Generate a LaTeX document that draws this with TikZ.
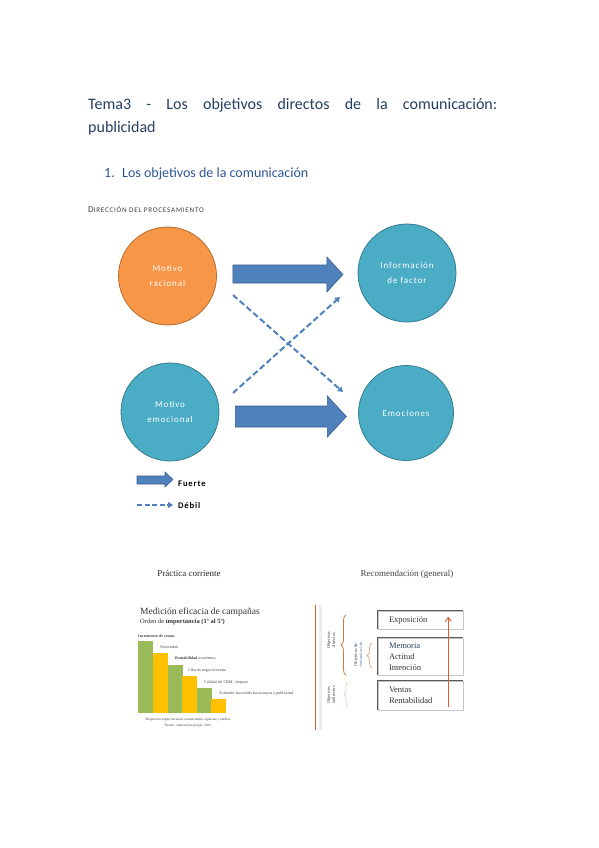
\documentclass[tikz,border=0pt]{standalone}
\usepackage{fontspec}
\setmainfont{Carlito}
\newfontfamily\serifimg{Liberation Serif}
\newfontfamily\spaced[LetterSpace=10]{Carlito}
\usetikzlibrary{calc,arrows.meta,decorations.pathreplacing}

\definecolor{titleblue}{RGB}{36,63,96}
\definecolor{headblue}{RGB}{47,84,150}
\definecolor{naranja}{RGB}{247,150,70}
\definecolor{naranjaborde}{RGB}{182,109,49}
\definecolor{turquesa}{RGB}{75,172,198}
\definecolor{turquesaborde}{RGB}{53,125,145}
\definecolor{flecha}{RGB}{79,129,189}
\definecolor{flechaborde}{RGB}{56,93,138}
\definecolor{verde}{RGB}{155,187,89}
\definecolor{amarillo}{RGB}{255,192,0}
\definecolor{rojizo}{RGB}{222,93,50}
\definecolor{marron}{RGB}{200,125,70}
\definecolor{tostado}{RGB}{225,175,135}

\begin{document}
\begin{tikzpicture}[x=1pt, y=-1pt,
    circulo/.style={circle, draw, line width=0.8pt, minimum size=98pt, text=white, align=center, font=\spaced\fontsize{9}{15}\selectfont},
    fuerte/.style={fill=flecha, draw=flechaborde, line width=0.6pt},
    debil/.style={draw=flecha, line width=2pt, dash pattern=on 6pt off 3pt, -{Triangle[length=5pt,width=6pt]}},
    caja/.style={draw=gray!45, line width=0.6pt, minimum width=85pt, text width=63pt, align=left, inner xsep=11pt, font=\serifimg\fontsize{8.5}{11}\selectfont, text=black!80},
    etiqueta/.style={anchor=base west, inner sep=0, font=\serifimg\fontsize{4}{4}\selectfont, text=black!75},
    lateral/.style={rotate=90, align=center, inner sep=0, font=\serifimg\fontsize{4.5}{5}\selectfont, text=black!75}]
    \useasboundingbox (0,0) rectangle (599,848);

    % Title and headings
    \node[anchor=base west, inner sep=0, text=titleblue, font=\fontsize{16}{20}\selectfont] (titulo1) at (88,110)
        {\makebox[409pt][s]{Tema3 - Los objetivos directos de la comunicación:}};
    \node[anchor=base west, inner sep=0, text=titleblue, font=\fontsize{16}{20}\selectfont] (titulo2) at (88,132) {publicidad};
    \node[anchor=base west, inner sep=0, text=headblue, font=\fontsize{14}{16}\selectfont] (seccion) at (104,177)
        {\makebox[18pt][l]{1.}Los objetivos de la comunicación};
    \node[anchor=base west, inner sep=0, text=black!75, font=\spaced] (direccion) at (88,212)
        {{\fontsize{9}{9}\selectfont D}{\fontsize{7.2}{9}\selectfont IRECCIÓN DEL PROCESAMIENTO}};

    % Circles
    \node[circulo, fill=naranja, draw=naranjaborde] (racional) at (167.5,276) {Motivo\\racional};
    \node[circulo, fill=turquesa, draw=turquesaborde] (factor) at (407,273) {Información\\de factor};
    \node[circulo, fill=turquesa, draw=turquesaborde] (emocional) at (170,412) {Motivo\\emocional};
    \node[circulo, fill=turquesa, draw=turquesaborde, minimum size=95pt] (emociones) at (406,413) {Emociones};

    % Strong arrows
    \draw[fuerte] ($(racional.east)+(16,-11)$) -- ++(94,0) -- ++(0,-8) -- ++(16,17.5) -- ++(-16,17.5) -- ++(0,-9) -- ++(-94,0) -- cycle;
    \draw[fuerte] ($(emocional.east)+(16,-6)$) -- ++(92,0) -- ++(0,-10) -- ++(19,20.5) -- ++(-19,20.5) -- ++(0,-10) -- ++(-92,0) -- cycle;

    % Weak arrows
    \coordinate (d1a) at ($(racional.center)+(65.5,19)$);
    \coordinate (d1b) at ($(emociones.center)+(-63,-21)$);
    \coordinate (d2a) at ($(emocional.center)+(63,-19)$);
    \coordinate (d2b) at ($(factor.center)+(-67,24)$);
    \draw[debil] (d1a) -- (d1b);
    \draw[debil] (d2a) -- (d2b);

    % Legend
    \node[anchor=base west, inner sep=0, font=\spaced\bfseries\fontsize{8.6}{9}\selectfont] (leyfuerte) at (178,486) {Fuerte};
    \node[anchor=base west, inner sep=0, font=\spaced\bfseries\fontsize{8.6}{9}\selectfont] (leydebil) at (178,508) {Débil};
    \draw[fuerte] ($(leyfuerte.base west)+(-41,-10)$) -- ++(28,0) -- ++(0,-4) -- ++(8,7.5) -- ++(-8,7.5) -- ++(0,-3) -- ++(-28,0) -- cycle;
    \coordinate (leyd) at ($(leydebil.base west)+(-41,-3)$);
    \draw[debil, line width=1.6pt, dash pattern=on 5pt off 2.5pt] (leyd) -- ++(36,0);

    % Current practice
    \node[anchor=base, inner sep=0, font=\serifimg\fontsize{9}{10}\selectfont, text=black!85] (practica) at (189,576) {Práctica corriente};
    \node[anchor=base, inner sep=0, font=\serifimg\fontsize{9}{10}\selectfont, text=black!75] (recomendacion) at (407,576) {Recomendación (general)};
    \node[anchor=base west, inner sep=0, font=\serifimg\fontsize{9.5}{10}\selectfont, text=black!80] (medicion) at (140,614) {Medición eficacia de campañas};
    \node[anchor=base west, inner sep=0, font=\serifimg\fontsize{6.5}{7}\selectfont, text=black!80] (orden) at (140,623) {Orden de \textbf{importancia (1º al 5º)}};

    % Bars
    \foreach \x/\h/\c in {138/641/verde, 153/653/amarillo, 168/665/verde, 182/676/amarillo, 197/688/verde, 211/699/amarillo}
        \fill[\c] (\x,\h) rectangle (\x+14.5,713);
    \node[etiqueta] (et1) at (138,637) {\textbf{Incremento de ventas}};
    \node[etiqueta] (et2) at (160,648) {Notoriedad};
    \node[etiqueta] (et3) at (175,659) {\textbf{Rentabilidad} económica};
    \node[etiqueta] (et4) at (188,671) {Cifra de negocio/ventas};
    \node[etiqueta] (et5) at (204,683) {Calidad del CRM / impacto};
    \node[etiqueta] (et6) at (219,694) {Actitudes favorables hacia marca y publicidad};
    \node[anchor=base, inner sep=0, font=\serifimg\fontsize{3.5}{4}\selectfont, text=black!75] (fuente1) at (188,720) {Respuestas según encuesta a anunciantes, agencias y medios};
    \node[anchor=base, inner sep=0, font=\serifimg\fontsize{3.5}{4}\selectfont, text=black!75] (fuente2) at (188,726) {Fuente: elaboración propia, 2013};

    % Separator
    \draw[gray!15, line width=3pt] (320,605) -- (320,730);
    \draw[rojizo, line width=1pt] (315,605) -- (315,730);

    % Recommendation boxes
    \node[caja, minimum height=18pt] (caja1) at (420.5,620) {Exposición};
    \node[caja, minimum height=37pt] (caja2) at (420.5,656.5) {\textcolor{titleblue}{Memoria}\\Actitud\\Intención};
    \node[caja, minimum height=29pt] (caja3) at (420.5,695.5) {Ventas\\Rentabilidad};
    \foreach \n in {caja1, caja2, caja3}
        \draw[black!65, line width=1pt] (\n.south west) -- (\n.north west) -- (\n.north east);

    % Braces and side labels
    \draw[marron, line width=0.8pt, decorate, decoration={brace, amplitude=5pt}] (346,675) -- (346,615);
    \draw[tostado, line width=0.8pt, decorate, decoration={brace, amplitude=5pt}] (372,668) -- (372,643);
    \draw[marron!35, line width=0.8pt, decorate, decoration={brace, amplitude=4pt}] (348,707) -- (348,682);
    \node[lateral] (directos) at (331,640) {Objetivos\\directos};
    \node[lateral] (comunicacion) at (358,655) {Objetivos de\\\textcolor{flecha}{comunicación}};
    \node[lateral] (indirectos) at (331,695) {Objetivos\\indirectos};

    % Upward arrow
    \coordinate (subida) at ($(caja3.south east)+(-15,-3)$);
    \coordinate (cima) at ($(caja1.north east)+(-15,6)$);
    \draw[rojizo, line width=0.9pt, -{Straight Barb[length=4pt,width=6pt]}] (subida) -- (cima);
\end{tikzpicture}
\end{document}
